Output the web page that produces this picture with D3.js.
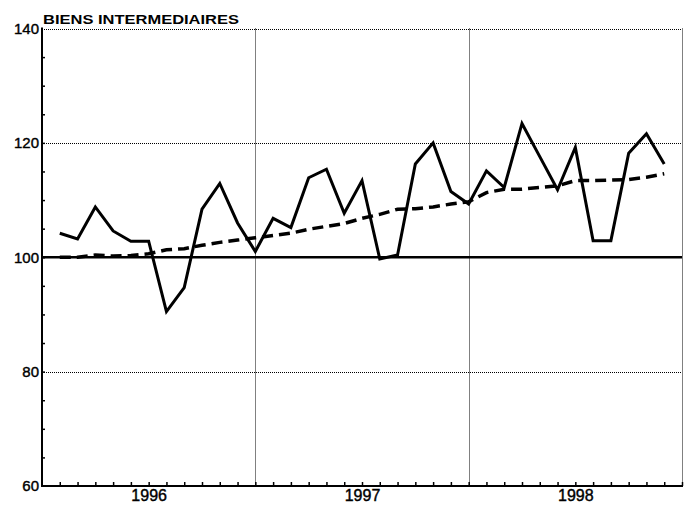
<!DOCTYPE html>
<html>
<head>
<meta charset="utf-8">
<script src="https://cdn.jsdelivr.net/npm/d3@7"></script>
<style>
  html, body { margin: 0; padding: 0; background: #fff; }
  svg { display: block; font-family: "Liberation Sans", Arial, sans-serif; }
</style>
</head>
<body>
<svg id="chart" width="689" height="505"></svg>
<script>
// ---- Data (monthly, Jan 1996 – Nov 1998) ----
const title = "BIENS INTERMEDIAIRES";
const years = ["1996", "1997", "1998"];
const yTickLabels = [60, 80, 100, 120, 140];
const indexValues = [
  104.2, 103.2, 108.8, 104.6, 102.8, 102.8, 90.5, 94.7, 108.4, 112.9, 106.0, 101.0,
  106.8, 105.2, 113.9, 115.4, 107.7, 113.4, 99.7, 100.4, 116.3, 120.0, 111.5, 109.3,
  115.1, 112.2, 123.4, 117.6, 111.8, 119.2, 102.9, 102.9, 118.2, 121.6, 116.3
];
const trendValues = [
  100.0, 100.0, 100.4, 100.2, 100.3, 100.6, 101.3, 101.5, 102.1, 102.6, 103.0, 103.4,
  103.8, 104.2, 104.9, 105.4, 105.9, 106.8, 107.5, 108.4, 108.5, 108.8, 109.3, 109.7,
  111.3, 111.9, 111.9, 112.2, 112.5, 113.4, 113.4, 113.5, 113.6, 114.0, 114.6
];

// ---- Layout ----
const pLeft = 42, pRight = 682, pTop = 28.5, pBottom = 486;
const svg = d3.select("#chart");

// month index i (0 = Jan 1996) is plotted at the end of its month
const x = d3.scaleLinear().domain([-1, 35]).range([pLeft, pRight]);
const y = d3.scaleLinear().domain([60, 140]).range([pBottom, pTop]);

// ---- Grid ----
const grid = svg.append("g").attr("stroke", "#000").attr("stroke-width", 1)
  .attr("stroke-dasharray", "1,1").attr("fill", "none");
[80, 120, 140].forEach(v => {
  grid.append("line").attr("x1", pLeft).attr("x2", pRight)
    .attr("y1", Math.round(y(v)) + 0.5).attr("y2", Math.round(y(v)) + 0.5);
});
[11, 23, 35].forEach(v => {
  grid.append("line").attr("x1", Math.round(x(v)) + 0.5).attr("x2", Math.round(x(v)) + 0.5)
    .attr("y1", pTop).attr("y2", pBottom);
});

// 100 reference line
svg.append("line").attr("x1", pLeft).attr("x2", pRight)
  .attr("y1", y(100)).attr("y2", y(100))
  .attr("stroke", "#000").attr("stroke-width", 2.5);

// ---- Axes ----
const yAxis = svg.append("g").attr("transform", `translate(${pLeft},0)`)
  .call(d3.axisLeft(y).tickValues(yTickLabels).tickSize(0).tickPadding(3));
yAxis.select(".domain").remove();
yAxis.selectAll("text").attr("font-size", 15).attr("fill", "#000")
  .attr("stroke", "#000").attr("stroke-width", 0.4);

const minor = d3.range(65, 140, 5);
const yMinor = svg.append("g").attr("transform", `translate(${pLeft},0)`)
  .call(d3.axisRight(y).tickValues(minor).tickSize(3).tickFormat(""));
yMinor.select(".domain").remove();
yMinor.selectAll("line").attr("stroke", "#000").attr("stroke-width", 1.5);

const months = d3.range(0, 36);
const xMinor = svg.append("g").attr("transform", `translate(0,${pBottom})`)
  .call(d3.axisTop(x).tickValues(months).tickSize(4).tickFormat(""));
xMinor.select(".domain").remove();
xMinor.selectAll("line").attr("stroke", "#000").attr("stroke-width", 1.5);

const xYears = svg.append("g").attr("transform", `translate(0,${pBottom})`)
  .call(d3.axisBottom(x).tickValues([5, 17, 29]).tickSize(0).tickPadding(4)
    .tickFormat((d, i) => years[i]));
xYears.select(".domain").remove();
xYears.selectAll("text").attr("font-size", 16).attr("fill", "#000")
  .attr("stroke", "#000").attr("stroke-width", 0.4);

// axis lines
svg.append("line").attr("x1", pLeft).attr("x2", pLeft).attr("y1", pTop - 1).attr("y2", pBottom + 1)
  .attr("stroke", "#000").attr("stroke-width", 2);
svg.append("line").attr("x1", pLeft).attr("x2", pRight + 1).attr("y1", pBottom).attr("y2", pBottom)
  .attr("stroke", "#000").attr("stroke-width", 2);

// ---- Series ----
const line = d3.line().x((d, i) => x(i)).y(d => y(d));
svg.append("path").datum(trendValues).attr("d", line)
  .attr("fill", "none").attr("stroke", "#000").attr("stroke-width", 3.5)
  .attr("stroke-dasharray", "11,6");
svg.append("path").datum(indexValues).attr("d", line)
  .attr("fill", "none").attr("stroke", "#000").attr("stroke-width", 3)
  .attr("stroke-linejoin", "miter");

// ---- Title ----
svg.append("text").attr("x", 43).attr("y", 24)
  .attr("font-size", 13).attr("font-weight", "bold").attr("fill", "#000")
  .attr("textLength", 196).attr("lengthAdjust", "spacingAndGlyphs")
  .text(title);
</script>
</body>
</html>
